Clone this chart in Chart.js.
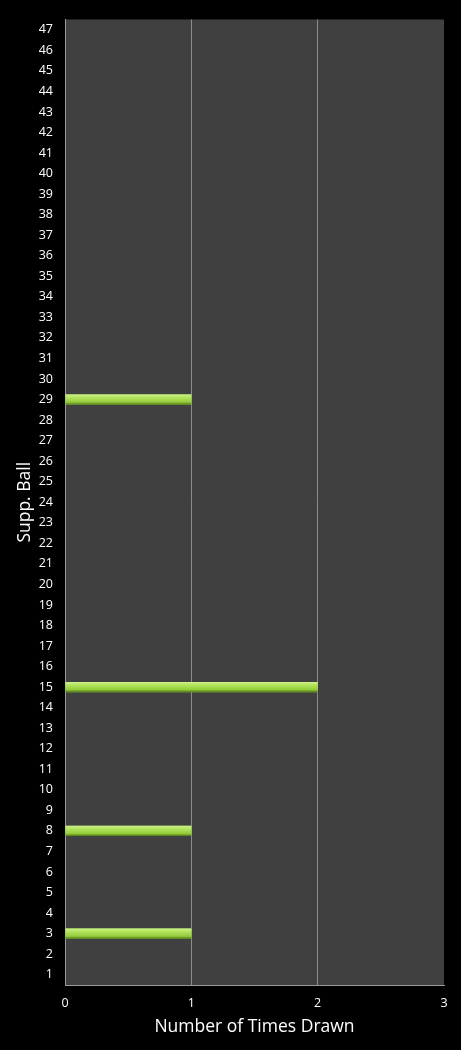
<!DOCTYPE html>
<html>
<head>
<meta charset="utf-8">
<script src="https://cdn.jsdelivr.net/npm/chart.js@4/dist/chart.umd.min.js"></script>
<style>
  html, body { margin: 0; padding: 0; background: #000; }
  #wrap { width: 461px; height: 1050px; }
</style>
</head>
<body>
<div id="wrap"><canvas id="ballChart"></canvas></div>
<script>
// supp. ball numbers 1..47, and how many times each was drawn
const balls = [];
for (let i = 1; i <= 47; i++) balls.push(String(i));
const drawnBalls = ['3', '8', '15', '29'];
const drawnCounts = [1, 1, 2, 1];
const xTicks = [0, 1, 2, 3];

const timesDrawn = balls.map(b => {
    const k = drawnBalls.indexOf(b);
    return k >= 0 ? drawnCounts[k] : null;
});

const plotBg = {
    id: 'plotBg',
    beforeDraw(chart) {
        const a = chart.chartArea;
        const c = chart.ctx;
        c.save();
        c.fillStyle = '#404040';
        c.fillRect(a.left, a.top, a.right - a.left, a.bottom - a.top);
        c.restore();
    }
};

// shade each bar like a little tube
const tubeShade = {
    id: 'tubeShade',
    afterDatasetsDraw(chart) {
        const c = chart.ctx;
        chart.getDatasetMeta(0).data.forEach(bar => {
            if (bar.skip || bar.x == null) return;
            const h = bar.height;
            const top = bar.y - h / 2;
            const g = c.createLinearGradient(0, top, 0, top + h);
            g.addColorStop(0, '#cdf28a');
            g.addColorStop(0.3, '#b2e45e');
            g.addColorStop(0.75, '#94cc3a');
            g.addColorStop(1, '#4e7418');
            c.save();
            c.fillStyle = g;
            c.fillRect(bar.base, top, bar.x - bar.base, h);
            c.restore();
        });
    }
};

const ctx = document.getElementById('ballChart').getContext('2d');
new Chart(ctx, {
    type: 'bar',
    data: {
        labels: balls,
        datasets: [{
            label: 'Number of Times Drawn',
            data: timesDrawn,
            backgroundColor: '#a4d84a',
            barPercentage: 0.5,
            categoryPercentage: 1.0
        }]
    },
    options: {
        indexAxis: 'y',
        responsive: true,
        maintainAspectRatio: false,
        animation: false,
        layout: { padding: { top: 13, right: 17, left: 0, bottom: 0 } },
        plugins: {
            legend: { display: false },
            tooltip: { enabled: false }
        },
        scales: {
            x: {
                min: 0,
                max: 3,
                afterBuildTicks: s => { s.ticks = xTicks.map(v => ({ value: v })); },
                afterFit: s => { s.height = 65; },
                grid: {
                    color: ctx => (ctx.tick && ctx.tick.value === 3 ? 'rgba(0,0,0,0)' : '#8c8c8c'),
                    lineWidth: 1,
                    drawTicks: false
                },
                border: { display: true, color: '#9a9a9a' },
                ticks: {
                    color: '#ffffff',
                    font: { family: 'Open Sans', size: 12.5 },
                    padding: 11,
                    maxRotation: 0
                },
                title: {
                    display: true,
                    text: 'Number of Times Drawn',
                    color: '#ffffff',
                    font: { family: 'Open Sans', size: 17.5 },
                    padding: { top: 2, bottom: 12 }
                }
            },
            y: {
                reverse: true,
                afterFit: s => { s.width = 65; },
                grid: { display: false, drawTicks: false },
                border: { display: true, color: '#9a9a9a' },
                ticks: {
                    color: '#ffffff',
                    font: { family: 'Open Sans', size: 12.5 },
                    padding: 12,
                    autoSkip: false
                },
                title: {
                    display: true,
                    text: 'Supp. Ball',
                    color: '#ffffff',
                    font: { family: 'Open Sans', size: 17.5 },
                    padding: { top: 15, bottom: 0 }
                }
            }
        }
    },
    plugins: [plotBg, tubeShade]
});
</script>
</body>
</html>
